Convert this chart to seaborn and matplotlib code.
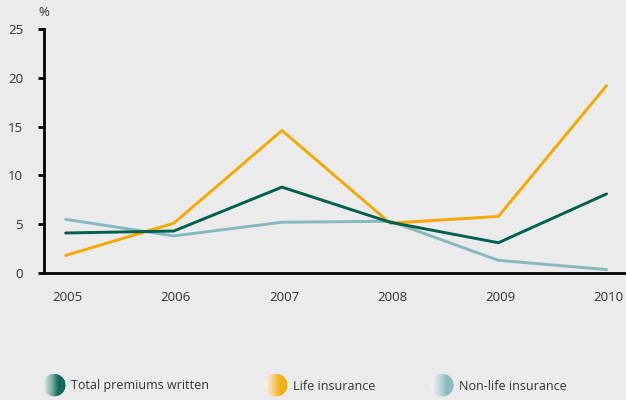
import numpy as np
import pandas as pd
import matplotlib
matplotlib.use("Agg")
import matplotlib.pyplot as plt
import seaborn as sns
from matplotlib.lines import Line2D
from matplotlib.patches import Polygon
from matplotlib.legend_handler import HandlerBase
from matplotlib.colors import to_rgb
from matplotlib.transforms import ScaledTranslation

years = [2005, 2006, 2007, 2008, 2009, 2010]
total_premiums = [4.1, 4.3, 8.8, 5.2, 3.1, 8.1]
life_insurance = [1.8, 5.1, 14.6, 5.1, 5.8, 19.2]
non_life_insurance = [5.5, 3.8, 5.2, 5.3, 1.3, 0.35]

series_names = ["Total premiums written", "Life insurance", "Non-life insurance"]
series_colors = ["#00604f", "#f5a800", "#86b9bd"]

bg = "#ebebeb"
text_col = "#333333"


class GradientCircleHandler(HandlerBase):
    """Legend key drawn as a circle shaded from light (left) to the series colour (right)"""
    def create_artists(self, legend, orig_handle, xdescent, ydescent, width, height, fontsize, trans):
        col = np.array(to_rgb(orig_handle.get_markerfacecolor()))
        light = np.array([0.97, 0.97, 0.97])
        r = 7.9
        cx = width / 2 - xdescent
        cy = height / 2 - ydescent
        n = 24
        edges = np.linspace(-r, r, n + 1)
        artists = []
        for i in range(n):
            xs = np.linspace(edges[i], edges[i + 1], 6)
            ys = np.sqrt(np.clip(r ** 2 - xs ** 2, 0, None))
            pts = np.column_stack([np.r_[xs, xs[::-1]], np.r_[ys, -ys[::-1]]]) + [cx, cy]
            t = min(1.0, (i + 0.5) / n / 0.75)
            c = light + (col - light) * t
            p = Polygon(pts, closed=True, facecolor=c, edgecolor=c, linewidth=0.3, transform=trans)
            artists.append(p)
        return artists


sns.set_style("white")
plt.rcParams["font.family"] = ["Open Sans", "DejaVu Sans"]

df = pd.DataFrame({
    "year": years * 3,
    "value": total_premiums + life_insurance + non_life_insurance,
    "series": [series_names[0]] * 6 + [series_names[1]] * 6 + [series_names[2]] * 6,
})

fig = plt.figure(figsize=(6.26, 4.0), dpi=100, facecolor=bg)
ax = fig.add_axes([0.0703, 0.3175, 0.9297, 0.61])
ax.set_facecolor(bg)

# non-life first so the other two sit on top
for name in [series_names[2], series_names[1], series_names[0]]:
    sub = df[df["series"] == name]
    sns.lineplot(data=sub, x="year", y="value", ax=ax, color=series_colors[series_names.index(name)],
                 linewidth=2.1, legend=False)

ax.set_xlim(2004.80, 2010.18)
ax.set_ylim(0, 25)
ax.set_yticks([0, 5, 10, 15, 20, 25])
ax.set_xticks(years)
ax.set_xlabel("")
ax.set_ylabel("")
for s in ["top", "right"]:
    ax.spines[s].set_visible(False)
for s in ["left", "bottom"]:
    ax.spines[s].set_color("black")
    ax.spines[s].set_linewidth(2)
ax.tick_params(axis="y", left=True, direction="out", length=4, width=2, color="black",
               labelsize=9.5, labelcolor=text_col, pad=11)
ax.tick_params(axis="x", bottom=False, length=0, labelsize=9.5, labelcolor=text_col, pad=13)
shift = ScaledTranslation(2 / 100, 0, fig.dpi_scale_trans)
for lab in ax.get_xticklabels():
    lab.set_transform(lab.get_transform() + shift)
ax.text(0.0, 1.04, "%", transform=ax.transAxes, fontsize=9.5, color=text_col, ha="center", va="bottom")

handles = [Line2D([], [], linestyle="none", marker="o", markerfacecolor=c) for c in series_colors]
fig.legend(handles, series_names, loc="center left", bbox_to_anchor=(0.0591, 0.035), ncol=3, frameon=False,
           fontsize=9, labelcolor=text_col, borderpad=0, handletextpad=0.45, columnspacing=4.5,
           handlelength=1.76, handler_map={Line2D: GradientCircleHandler()})

fig.savefig("out.png", dpi=100, facecolor=bg)
